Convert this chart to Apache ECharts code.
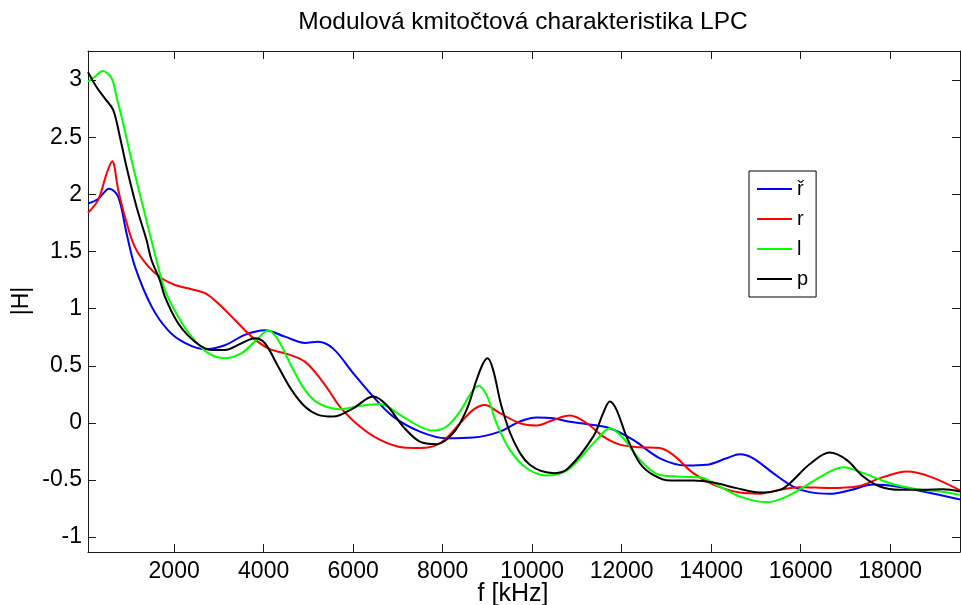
<!DOCTYPE html>
<html>
<head>
<meta charset="utf-8">
<script src="https://cdn.jsdelivr.net/npm/echarts@6/dist/echarts.min.js"></script>
<style>html,body{margin:0;padding:0;background:#fff}#c{width:961px;height:605px}</style>
</head>
<body>
<div id="c"></div>
<script>
// ---- data ----
const seriesNames = ['ř', 'r', 'l', 'p'];
const seriesColors = ['#0000ff', '#ff0000', '#00ff00', '#000000'];

const freqR1 = [75, 300, 547, 749, 936, 1122, 1494, 1866, 2239, 2686, 3133, 3580, 4027, 4474, 4921, 5218, 5553, 6000, 6447, 6894, 7491, 8087, 8683, 9279, 9725, 10098, 10470, 10843, 11215, 11736, 12258, 12854, 13450, 13897, 14344, 14641, 14939, 15386, 15833, 16205, 16652, 17099, 17620, 18142, 18738, 19560];
const magR1 = [1.92, 1.96, 2.05, 1.98, 1.66, 1.37, 1.02, 0.81, 0.70, 0.645, 0.68, 0.77, 0.81, 0.755, 0.70, 0.71, 0.65, 0.435, 0.23, 0.055, -0.076, -0.134, -0.128, -0.076, 0.012, 0.047, 0.04, 0.01, -0.01, -0.047, -0.149, -0.31, -0.373, -0.367, -0.31, -0.275, -0.31, -0.44, -0.557, -0.606, -0.62, -0.59, -0.54, -0.557, -0.60, -0.67];

const freqR = [75, 300, 490, 615, 750, 900, 1120, 1420, 1720, 2020, 2390, 2690, 2980, 3360, 3730, 4100, 4550, 4920, 5260, 5480, 5700, 6150, 6600, 7120, 7490, 7940, 8390, 8680, 8940, 9280, 9730, 10100, 10470, 10840, 11220, 11590, 11960, 12410, 12850, 13150, 13600, 14050, 14640, 15090, 15530, 15980, 16650, 17250, 17840, 18370, 18890, 19560];
const magR = [1.84, 1.95, 2.18, 2.29, 2.04, 1.805, 1.54, 1.37, 1.266, 1.207, 1.17, 1.135, 1.047, 0.90, 0.755, 0.653, 0.60, 0.536, 0.39, 0.27, 0.143, -0.032, -0.149, -0.216, -0.22, -0.178, -0.003, 0.114, 0.157, 0.085, -0.003, -0.023, 0.026, 0.064, -0.003, -0.12, -0.19, -0.213, -0.22, -0.28, -0.44, -0.54, -0.61, -0.62, -0.586, -0.563, -0.57, -0.557, -0.475, -0.426, -0.47, -0.59];

const freqL = [75, 228, 400, 601, 712, 861, 1084, 1400, 1530, 1792, 2089, 2389, 2760, 3133, 3506, 3877, 4101, 4324, 4623, 4921, 5218, 5703, 6150, 6597, 7045, 7491, 7788, 8087, 8385, 8609, 8793, 8981, 9204, 9502, 9875, 10322, 10769, 11066, 11439, 11736, 12034, 12406, 12780, 13227, 13743, 14190, 14637, 15238, 15685, 16205, 16652, 16950, 17397, 17993, 18589, 19111, 19560];
const magL = [2.986, 3.03, 3.08, 3.016, 2.855, 2.62, 2.24, 1.74, 1.54, 1.164, 0.93, 0.755, 0.61, 0.566, 0.61, 0.741, 0.808, 0.726, 0.493, 0.289, 0.172, 0.12, 0.149, 0.166, 0.07, -0.032, -0.067, -0.032, 0.099, 0.245, 0.324, 0.245, -0.003, -0.236, -0.397, -0.46, -0.417, -0.31, -0.149, -0.047, -0.134, -0.324, -0.446, -0.47, -0.475, -0.557, -0.645, -0.694, -0.645, -0.528, -0.426, -0.388, -0.44, -0.528, -0.58, -0.60, -0.63];

const freqP = [75, 266, 451, 637, 787, 936, 1160, 1383, 1494, 1680, 1792, 2089, 2463, 2835, 3133, 3506, 3803, 4027, 4324, 4623, 4921, 5218, 5553, 6000, 6447, 6746, 7117, 7491, 7864, 8235, 8534, 8757, 8905, 9003, 9128, 9316, 9575, 9948, 10500, 10805, 11364, 11587, 11736, 11885, 12109, 12406, 12704, 13077, 13598, 14045, 14568, 15088, 15534, 15759, 16205, 16652, 17025, 17397, 17770, 18217, 18738, 19184, 19560];
const magP = [3.07, 2.94, 2.84, 2.74, 2.505, 2.24, 1.89, 1.60, 1.426, 1.25, 1.105, 0.872, 0.711, 0.639, 0.639, 0.697, 0.741, 0.697, 0.493, 0.289, 0.143, 0.07, 0.055, 0.128, 0.23, 0.157, -0.032, -0.164, -0.186, -0.09, 0.114, 0.376, 0.522, 0.566, 0.464, 0.143, -0.149, -0.367, -0.44, -0.397, -0.12, 0.085, 0.187, 0.114, -0.12, -0.353, -0.455, -0.505, -0.505, -0.522, -0.571, -0.61, -0.586, -0.528, -0.36, -0.26, -0.324, -0.47, -0.557, -0.586, -0.586, -0.58, -0.60];

const freqs = [freqR1, freqR, freqL, freqP];
const mags = [magR1, magR, magL, magP];

const xMin = 75, xMax = 19560, xStep = 2000;
const yMin = -1.13, yMax = 3.255, yStep = 0.5;

const titleText = 'Modulová kmitočtová charakteristika LPC';
const xName = 'f [kHz]';
const yName = '|H|';

// ---- chart ----
const FONT = 'Liberation Sans, Arial, sans-serif';
const AXC = '#1a1a1a';
const onStep = (v, s) => Math.abs(v / s - Math.round(v / s)) < 1e-6;

const chart = echarts.init(document.getElementById('c'), null, {renderer: 'canvas'});

function xAxisDef(pos, show) {
  return {
    type: 'value', position: pos, min: xMin, max: xMax,
    minInterval: xStep, maxInterval: xStep, splitNumber: 10,
    axisLine: {show: true, onZero: false, lineStyle: {color: AXC, width: 1}},
    axisTick: {show: true, inside: true, length: 8, lineStyle: {color: AXC}},
    axisLabel: {show: show, margin: 8, color: '#000', fontFamily: FONT, fontSize: 23,
      showMinLabel: false, showMaxLabel: false,
      formatter: v => onStep(v, xStep) && v > xMin && v < xMax ? String(Math.round(v)) : ''},
    splitLine: {show: false}
  };
}
function yAxisDef(pos, show) {
  return {
    type: 'value', position: pos, min: yMin, max: yMax,
    minInterval: yStep, maxInterval: yStep, splitNumber: 9,
    axisLine: {show: true, onZero: false, lineStyle: {color: AXC, width: 1}},
    axisTick: {show: true, inside: true, length: 8, lineStyle: {color: AXC}},
    axisLabel: {show: show, margin: 6, color: '#000', fontFamily: FONT, fontSize: 23,
      showMinLabel: false, showMaxLabel: false,
      formatter: v => onStep(v, yStep) && v > yMin && v < yMax ? String(Math.round(v / yStep) * yStep) : ''},
    splitLine: {show: false}
  };
}

const option = {
  animation: false,
  backgroundColor: '#fff',
  grid: {left: 88, right: 1, top: 51, bottom: 53, containLabel: false},
  xAxis: [xAxisDef('bottom', true), xAxisDef('top', false)],
  yAxis: [yAxisDef('left', true), yAxisDef('right', false)],
  legend: {
    data: seriesNames, orient: 'vertical', left: 749, top: 171,
    icon: 'rect', itemWidth: 35, itemHeight: 2, itemGap: 10,
    padding: [8, 8, 8, 8],
    borderColor: '#000', borderWidth: 1, backgroundColor: '#fff',
    selectedMode: false,
    textStyle: {fontFamily: FONT, fontSize: 20, color: '#000', padding: [0, 0, 0, 0]}
  },
  graphic: [
    {type: 'text', x: 523, y: 22, style: {text: titleText, fontFamily: FONT, fontSize: 24.5, fill: '#000', align: 'center', verticalAlign: 'middle'}},
    {type: 'text', x: 513, y: 594, style: {text: xName, fontFamily: FONT, fontSize: 25, fill: '#000', align: 'center', verticalAlign: 'middle'}},
    {type: 'text', x: 22, y: 301, rotation: Math.PI / 2, style: {text: yName, fontFamily: FONT, fontSize: 23, fill: '#000', align: 'center', verticalAlign: 'middle'}}
  ],
  series: seriesNames.map((n, i) => ({
    name: n, type: 'line', xAxisIndex: 0, yAxisIndex: 0,
    data: freqs[i].map((f, j) => [f, mags[i][j]]),
    showSymbol: false, symbol: 'none', smooth: 0.35,
    lineStyle: {color: seriesColors[i], width: 2},
    itemStyle: {color: seriesColors[i]},
    clip: true
  }))
};
chart.setOption(option);
</script>
</body>
</html>
